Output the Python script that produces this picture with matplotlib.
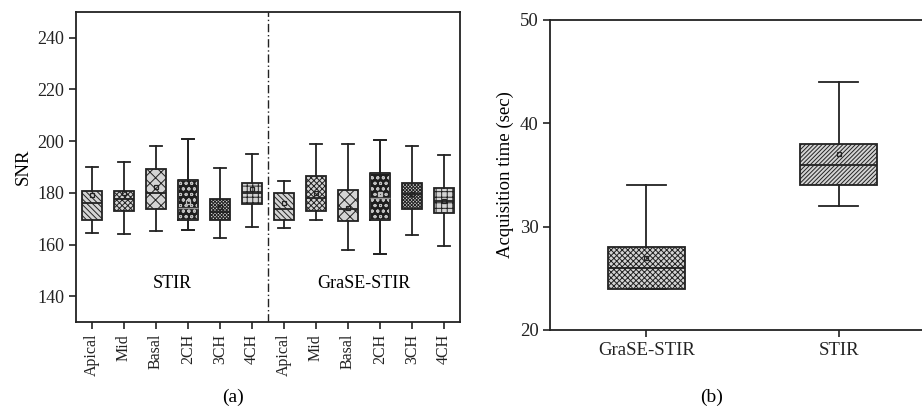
import matplotlib
matplotlib.use("Agg")
import matplotlib.pyplot as plt

plt.rcParams['font.family'] = ['Liberation Serif', 'DejaVu Serif']
plt.rcParams['hatch.linewidth'] = 0.7

# panel (a): SNR per segment, STIR then GraSE-STIR
segments = ["Apical", "Mid", "Basal", "2CH", "3CH", "4CH"]
snr_whislo = [164.5, 164.0, 165.4, 165.7, 162.5, 166.6,
              166.5, 169.6, 158.0, 156.5, 163.7, 159.3]
snr_q1 = [169.5, 172.9, 173.7, 169.5, 169.5, 175.7,
          169.5, 173.1, 169.2, 169.5, 173.8, 172.1]
snr_med = [176.0, 177.7, 179.9, 174.2, 172.7, 180.0,
           173.8, 178.0, 173.8, 178.0, 179.5, 177.0]
snr_q3 = [180.8, 180.7, 189.4, 184.8, 177.7, 183.9,
          179.9, 186.6, 181.1, 187.6, 183.7, 181.8]
snr_whishi = [190.0, 191.8, 198.2, 201.0, 189.7, 195.1,
              184.6, 198.8, 199.0, 200.5, 198.0, 194.5]
snr_mean = [179.2, 180.0, 182.2, 176.3, 174.5, 181.3,
            176.1, 179.9, 174.2, 179.6, 179.5, 177.0]
hatches = ["\\" * 6, "x" * 6, "xxx", "ooo", "x" * 10, "+++"]
dark = [False, False, False, True, False, False]

# panel (b): acquisition time
seq = ["GraSE-STIR", "STIR"]
t_whislo = [24, 32]
t_q1 = [24, 34]
t_med = [26, 36]
t_q3 = [28, 38]
t_whishi = [34, 44]
t_mean = [27, 37]
t_hatch = ["x" * 6, "/" * 8]


def make_stats(lo, q1, med, q3, hi, mean):
    return [dict(whislo=a, q1=b, med=c, q3=d, whishi=e, mean=f, fliers=[])
            for a, b, c, d, e, f in zip(lo, q1, med, q3, hi, mean)]


fig = plt.figure(figsize=(9.22, 4.13), dpi=100)
ax1 = fig.add_axes([0.0824, 0.2203, 0.4166, 0.7507])
ax2 = fig.add_axes([0.597, 0.201, 0.403, 0.7506])

line = dict(color="#222222", linewidth=1.3)
mean_style = dict(marker="s", markersize=3.5, markerfacecolor="none",
                  markeredgecolor="#222222", markeredgewidth=0.9)

stats1 = make_stats(snr_whislo, snr_q1, snr_med, snr_q3, snr_whishi, snr_mean)
pos1 = list(range(1, 13))
bp = ax1.bxp(stats1, positions=pos1, widths=0.62, capwidths=0.38,
             patch_artist=True, showmeans=True, showfliers=False,
             boxprops=dict(facecolor="#d4d4d4", edgecolor="#222222", linewidth=1.3),
             whiskerprops=line, capprops=line, medianprops=line,
             meanprops=mean_style)
for i, box in enumerate(bp["boxes"]):
    k = i % 6
    box.set_hatch(hatches[k])
    if dark[k]:
        box.set_facecolor("#1e1e1e")
        box.set_edgecolor("#c0c0c0")
        bp["means"][i].set_markeredgecolor("#c0c0c0")
# outline again for the dark boxes, so their frame stays black
dark_idx = [i for i in range(12) if dark[i % 6]]
ax1.bxp([stats1[i] for i in dark_idx], positions=[pos1[i] for i in dark_idx],
        widths=0.62, capwidths=0.38, showfliers=False,
        boxprops=dict(color="#222222", linewidth=1.3),
        whiskerprops=line, capprops=line,
        medianprops=dict(color="#999999", linewidth=1.0))

ax1.axvline(6.5, color="#222222", linestyle=(0, (6, 2, 1, 2)), linewidth=1.0)
ax1.text(3.5, 145, "STIR", ha="center", va="center", fontsize=13)
ax1.text(9.5, 145, "GraSE-STIR", ha="center", va="center", fontsize=13)
ax1.set_xlim(0.5, 12.5)
ax1.set_ylim(130, 250)
ax1.set_yticks([140, 160, 180, 200, 220, 240])
ax1.set_xticks(pos1)
ax1.set_xticklabels(segments * 2, rotation=90)
ax1.set_ylabel("SNR", fontsize=13.5)
ax1.tick_params(direction="out", length=5, width=1.2, colors="#222222")
ax1.tick_params(axis="y", labelsize=13)
ax1.tick_params(axis="x", labelsize=11.5)
for s in ax1.spines.values():
    s.set_linewidth(1.3)
    s.set_color("#222222")

stats2 = make_stats(t_whislo, t_q1, t_med, t_q3, t_whishi, t_mean)
bp2 = ax2.bxp(stats2, positions=[1, 2], widths=0.4, capwidths=0.2,
              patch_artist=True, showmeans=True, showfliers=False,
              boxprops=dict(facecolor="#d4d4d4", edgecolor="#222222", linewidth=1.3),
              whiskerprops=line, capprops=line, medianprops=line,
              meanprops=mean_style)
for box, h in zip(bp2["boxes"], t_hatch):
    box.set_hatch(h)
ax2.set_xlim(0.5, 2.434)
ax2.set_ylim(20, 50)
ax2.set_yticks([20, 30, 40, 50])
ax2.set_xticks([1, 2])
ax2.set_xticklabels(seq)
ax2.set_ylabel("Acquisition time (sec)", fontsize=13.5)
ax2.spines["right"].set_visible(False)
ax2.tick_params(direction="out", length=5, width=1.2, labelsize=13.5, colors="#222222")
for s in ax2.spines.values():
    s.set_linewidth(1.3)
    s.set_color("#222222")

fig.text(0.2527, 0.038, "(a)", ha="center", va="center", fontsize=14)
fig.text(0.772, 0.038, "(b)", ha="center", va="center", fontsize=14)

fig.savefig("out.png", dpi=100)
